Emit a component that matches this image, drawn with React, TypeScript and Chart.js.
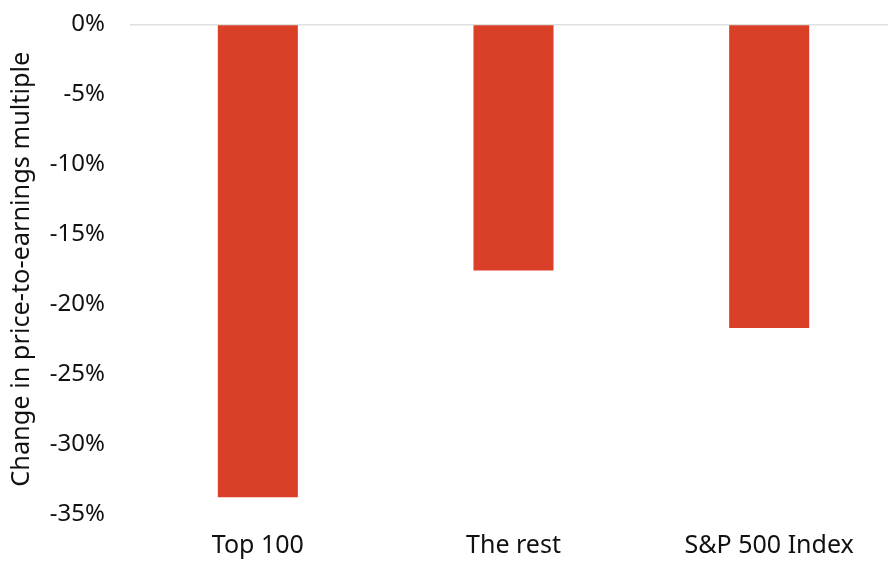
import React, { useEffect, useRef } from "react";
import { Chart, registerables } from "chart.js";

Chart.register(...registerables);

const categories = ["Top 100", "The rest", "S&P 500 Index"];
const peChange = [-33.8, -17.6, -21.7];
const yTicks = [0, -5, -10, -15, -20, -25, -30, -35];
const yTitle = "Change in price-to-earnings multiple";

const FONT = "'Noto Sans', 'Open Sans', sans-serif";

export default function App() {
  const ref = useRef<HTMLCanvasElement | null>(null);

  useEffect(() => {
    if (!ref.current) return;
    const chart = new Chart(ref.current, {
      type: "bar",
      data: {
        labels: categories,
        datasets: [
          {
            data: peChange,
            backgroundColor: "#D94027",
            borderWidth: 0,
            categoryPercentage: 1,
            barPercentage: 0.313,
          },
        ],
      },
      options: {
        responsive: false,
        animation: false,
        layout: { padding: { top: 8, left: 0, right: 0, bottom: 0 } },
        plugins: { legend: { display: false }, tooltip: { enabled: false } },
        scales: {
          x: {
            offset: true,
            grid: { display: false, drawTicks: false },
            border: { display: false },
            ticks: {
              color: "#111",
              font: { family: FONT, size: 25 },
              padding: 17,
              maxRotation: 0,
            },
            afterFit: (s: any) => {
              s.height = 49;
            },
          },
          y: {
            min: -35,
            max: 0,
            afterBuildTicks: (s: any) => {
              s.ticks = yTicks.map((v) => ({ value: v }));
            },
            grid: {
              drawTicks: false,
              color: (c: any) => (c.tick && c.tick.value === 0 ? "#e0e0e0" : "transparent"),
              lineWidth: 1.5,
            },
            border: { display: false },
            ticks: {
              color: "#111",
              font: { family: FONT, size: 24 },
              padding: 25,
              callback: (v: any) => `${v}%`,
            },
            title: {
              display: true,
              text: yTitle,
              color: "#111",
              font: { family: FONT, size: 25.3 },
              padding: { top: 7, bottom: 0 },
            },
            afterFit: (s: any) => {
              s.width = 130;
            },
          },
        },
      },
    });
    return () => chart.destroy();
  }, []);

  return (
    <div
      style={{
        position: "fixed",
        left: 0,
        top: 0,
        width: 888,
        height: 563,
        overflow: "hidden",
        background: "#fff",
      }}
    >
      <canvas
        ref={ref}
        width={897}
        height={578}
        style={{ display: "block", position: "absolute", left: 0, top: -15 }}
      />
    </div>
  );
}
